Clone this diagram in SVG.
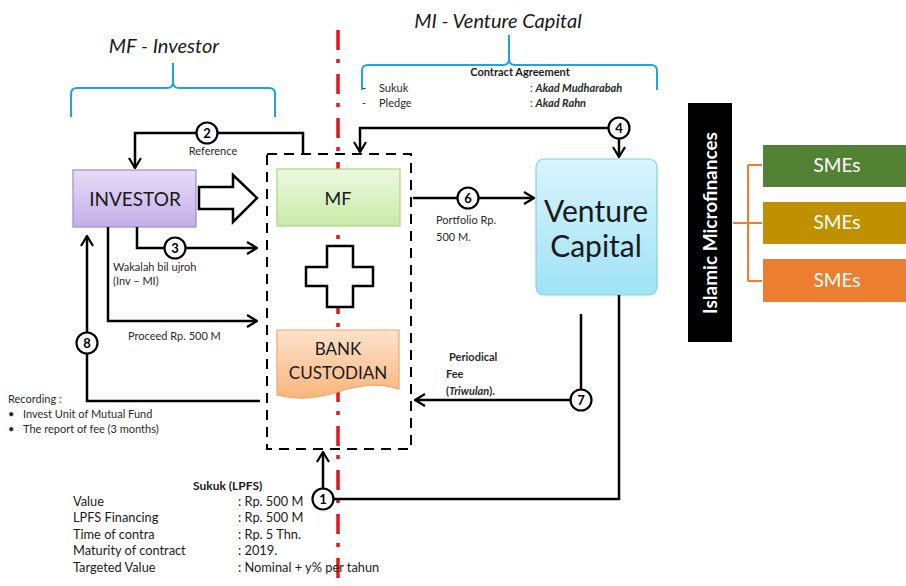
<svg xmlns="http://www.w3.org/2000/svg" width="906" height="586" viewBox="0 0 906 586">
  <defs>
    <linearGradient id="gInv" x1="0" y1="0" x2="0" y2="1">
      <stop offset="0" stop-color="#e6ddf6"/>
      <stop offset="1" stop-color="#c3aee9"/>
    </linearGradient>
    <linearGradient id="gMF" x1="0" y1="0" x2="0" y2="1">
      <stop offset="0" stop-color="#eef9e2"/>
      <stop offset="1" stop-color="#c8eaa6"/>
    </linearGradient>
    <linearGradient id="gBank" x1="0" y1="0" x2="0" y2="1">
      <stop offset="0" stop-color="#fde2cb"/>
      <stop offset="1" stop-color="#f9b57c"/>
    </linearGradient>
    <linearGradient id="gVC" x1="0" y1="0" x2="0" y2="1">
      <stop offset="0" stop-color="#d9f4fc"/>
      <stop offset="1" stop-color="#9fe2f6"/>
    </linearGradient>
    <marker id="arrow" viewBox="0 0 12 14" refX="11" refY="7" markerWidth="12" markerHeight="14" markerUnits="userSpaceOnUse" orient="auto">
      <path d="M1,1 L11,7 L1,13" fill="none" stroke="#000" stroke-width="2.2"/>
    </marker>
    <style>
      text { font-family: Lato, "Liberation Sans", sans-serif; fill: #1a1a1a; }
      .title { font-size: 20px; font-style: italic; }
      .small { font-size: 11px; fill: #2a2a2a; }
      .num { font-size: 13px; font-weight: bold; text-anchor: middle; fill: #000; }
      .line { fill: none; stroke: #000; stroke-width: 2.5; }
      .arr { marker-end: url(#arrow); }
      .badge { fill: #fff; stroke: #000; stroke-width: 2.2; }
      .brace { fill: none; stroke: #1ea5e0; stroke-width: 2; }
      .row { font-size: 12.8px; fill: #1a1a1a; }
      .sme { font-size: 19px; fill: #fff; text-anchor: middle; }
    </style>
  </defs>

  <!-- divider between the two sides -->
  <line x1="338" y1="30" x2="338" y2="586" stroke="#e8141c" stroke-width="3.5" stroke-dasharray="20 9 4 11"/>

  <!-- side headings with braces -->
  <g id="heading-left">
    <text class="title" x="164" y="53" text-anchor="middle">MF - Investor</text>
    <path class="brace" d="M71,117 V94 Q71,88 77,88 H167 Q173,88 173,82 V63 M173,82 Q173,88 179,88 H269 Q275,88 275,94 V117"/>
  </g>
  <g id="heading-right">
    <text class="title" x="498" y="28" text-anchor="middle">MI - Venture Capital</text>
    <path class="brace" d="M362,90 V71 Q362,65 368,65 H503 Q509,65 509,59 V35 M509,59 Q509,65 515,65 H651 Q657,65 657,71 V90"/>
    <text x="520" y="76" text-anchor="middle" font-size="11" font-weight="bold">Contract Agreement</text>
    <text class="small" x="362" y="92">-</text>
    <text class="small" x="379" y="92">Sukuk</text>
    <text class="small" x="362" y="107">-</text>
    <text class="small" x="379" y="107">Pledge</text>
    <text class="small" x="530" y="92">: <tspan font-weight="bold" font-style="italic">Akad Mudharabah</tspan></text>
    <text class="small" x="530" y="107">: <tspan font-weight="bold" font-style="italic">Akad Rahn</tspan></text>
  </g>

  <!-- dashed grouping around MF and bank custodian -->
  <rect id="group-box" x="267" y="154" width="144" height="295" fill="none" stroke="#000" stroke-width="2" stroke-dasharray="10 7"/>

  <!-- nodes -->
  <g id="investor">
    <rect x="73" y="170" width="123" height="57" fill="url(#gInv)" stroke="#9d8ccc" stroke-width="1.2"/>
    <text x="135" y="206" text-anchor="middle" font-size="19">INVESTOR</text>
  </g>

  <g id="invest-arrow">
    <path d="M199,187 H233 V175 L257,198 L233,222 V209 H199 Z" fill="#fff" stroke="#000" stroke-width="2.5" stroke-linejoin="miter"/>
  </g>

  <g id="mf">
    <rect x="277" y="169" width="123" height="57" fill="url(#gMF)" stroke="#a9d77f" stroke-width="1.2"/>
    <text x="338" y="205" text-anchor="middle" font-size="18">MF</text>
  </g>

  <g id="plus">
    <path d="M327,246 H353 V267 H373 V286 H353 V307 H327 V286 H306 V267 H327 Z" fill="#fff" stroke="#000" stroke-width="2.5"/>
  </g>

  <g id="bank-custodian">
    <path d="M277,330 H399 V389 C378,382 358,385 338,392 C316,399 296,400 277,395 Z" fill="url(#gBank)" stroke="#f0a868" stroke-width="1.2"/>
    <text x="338" y="355" text-anchor="middle" font-size="17">BANK</text>
    <text x="338" y="379" text-anchor="middle" font-size="17">CUSTODIAN</text>
  </g>

  <g id="venture-capital">
    <rect x="536" y="159" width="121" height="136" rx="8" fill="url(#gVC)" stroke="#86cde0" stroke-width="1.2"/>
    <text x="596" y="222" text-anchor="middle" font-size="30">Venture</text>
    <text x="596" y="257" text-anchor="middle" font-size="30">Capital</text>
  </g>

  <g id="islamic-microfinances">
    <rect x="688" y="103" width="44" height="239" fill="#000"/>
    <text transform="translate(717,223) rotate(-90)" text-anchor="middle" font-size="19" font-weight="bold" style="fill:#fff">Islamic Microfinances</text>
  </g>

  <g id="sme-1">
    <rect x="763" y="145" width="143" height="42" fill="#548235"/>
    <text class="sme" x="837" y="172">SMEs</text>
  </g>
  <g id="sme-2">
    <rect x="763" y="202" width="143" height="42" fill="#bf9000"/>
    <text class="sme" x="837" y="229">SMEs</text>
  </g>
  <g id="sme-3">
    <rect x="763" y="259" width="143" height="43" fill="#ed7d31"/>
    <text class="sme" x="837" y="287">SMEs</text>
  </g>

  <!-- connectors -->
  <g id="connectors">
    <path d="M733,223 H748 M748,165 V281 M748,165 H762 M748,223 H762 M748,281 H762" fill="none" stroke="#ed7d31" stroke-width="2"/>

    <!-- 2: reference -->
    <path class="line arr" d="M303,154 V133 H135 V168"/>
    <!-- 3: wakalah -->
    <path class="line arr" d="M137,227 V248 H257"/>
    <!-- proceed -->
    <path class="line arr" d="M108,227 V321 H257"/>
    <!-- 8: recording back to investor -->
    <path class="line arr" d="M260,401 H87 V236"/>
    <!-- 4: contract -->
    <path class="line arr" d="M619,128 H360 V152"/>
    <path class="line arr" d="M619,128 V157"/>
    <!-- 6: portfolio -->
    <path class="line arr" d="M413,198 H534"/>
    <!-- 7: periodical fee -->
    <path class="line arr" d="M581,314 V400 H415"/>
    <!-- 1: sukuk -->
    <path class="line arr" d="M619,295 V499 H323 V452"/>

    <circle class="badge" cx="207" cy="133" r="10.5"/>
    <text class="num" x="207" y="138">2</text>
    <circle class="badge" cx="175" cy="248" r="10.5"/>
    <text class="num" x="175" y="253">3</text>
    <circle class="badge" cx="619" cy="128" r="10.5"/>
    <text class="num" x="619" y="133">4</text>
    <circle class="badge" cx="468" cy="198" r="10.5"/>
    <text class="num" x="468" y="203">6</text>
    <circle class="badge" cx="581" cy="400" r="10.5"/>
    <text class="num" x="581" y="405">7</text>
    <circle class="badge" cx="87" cy="343" r="10.5"/>
    <text class="num" x="87" y="348">8</text>
    <circle class="badge" cx="323" cy="499" r="10.5"/>
    <text class="num" x="323" y="504">1</text>

    <text class="small" x="213" y="155" text-anchor="middle">Reference</text>
    <text class="small" x="113" y="271">Wakalah bil ujroh</text>
    <text class="small" x="113" y="285">(Inv – MI)</text>
    <text class="small" x="128" y="340">Proceed Rp. 500 M</text>
    <text class="small" x="436" y="224">Portfolio Rp.</text>
    <text class="small" x="436" y="241">500 M.</text>
    <text class="small" x="449" y="361" font-weight="bold">Periodical</text>
    <text class="small" x="446" y="378" font-weight="bold">Fee</text>
    <text class="small" x="446" y="395" font-weight="bold">(<tspan font-style="italic">Triwulan</tspan>).</text>
  </g>

  <!-- recording notes -->
  <g id="recording">
    <text class="small" x="8" y="403">Recording :</text>
    <text class="small" x="8" y="418">•</text>
    <text class="small" x="23" y="418">Invest Unit of Mutual Fund</text>
    <text class="small" x="8" y="433">•</text>
    <text class="small" x="23" y="433">The report of fee (3 months)</text>
  </g>

  <!-- sukuk terms -->
  <g id="sukuk-terms">
    <text x="193" y="490" font-size="12" font-weight="bold">Sukuk (LPFS)</text>
    <text class="row" x="73" y="506">Value</text>
    <text class="row" x="238" y="506">: Rp. 500 M</text>
    <text class="row" x="73" y="522">LPFS Financing</text>
    <text class="row" x="238" y="522">: Rp. 500 M</text>
    <text class="row" x="73" y="539">Time of contra</text>
    <text class="row" x="238" y="539">: Rp. 5 Thn.</text>
    <text class="row" x="73" y="555">Maturity of contract</text>
    <text class="row" x="238" y="555">: 2019.</text>
    <text class="row" x="73" y="572">Targeted Value</text>
    <text class="row" x="238" y="572">: Nominal + y% per tahun</text>
  </g>
</svg>
